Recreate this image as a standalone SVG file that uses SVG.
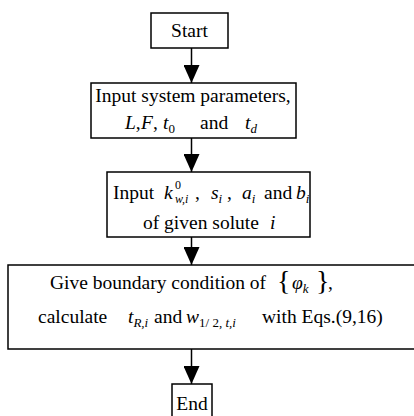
<svg xmlns="http://www.w3.org/2000/svg" width="414" height="416" viewBox="0 0 414 416">
<defs>
<style>
.box{fill:#fff;stroke:#000;stroke-width:1.5}
.ln{stroke:#000;stroke-width:1.5;fill:none}
text{font-family:"Liberation Serif","Times New Roman",serif;font-size:19.5px;fill:#000}
.it{font-style:italic}
.sub{font-size:13px}
.sm{font-size:12px}
.br{font-size:28px}
</style>
<marker id="ah" viewBox="0 0 18 16" refX="18" refY="8" markerWidth="18" markerHeight="16" markerUnits="userSpaceOnUse" orient="auto">
<path d="M0,0 L18,8 L0,16 Z" fill="#000"/>
</marker>
</defs>
<rect width="414" height="416" fill="#fff"/>
<g id="connectors">
<line class="ln" x1="191.5" y1="48" x2="191.5" y2="83" marker-end="url(#ah)"/>
<line class="ln" x1="191.5" y1="138" x2="191.5" y2="172" marker-end="url(#ah)"/>
<line class="ln" x1="191.5" y1="237" x2="191.5" y2="265" marker-end="url(#ah)"/>
<line class="ln" x1="191.5" y1="349" x2="191.5" y2="384" marker-end="url(#ah)"/>
</g>
<g id="start">
<rect class="box" x="151" y="13" width="77" height="35"/>
<text x="189.5" y="37" text-anchor="middle">Start</text>
</g>
<g id="input-params">
<rect class="box" x="91" y="83" width="205" height="55"/>
<text x="193" y="102" text-anchor="middle">Input system parameters,</text>
<text y="129"><tspan x="125" class="it">L</tspan><tspan>,</tspan><tspan class="it" x="141">F</tspan><tspan>,</tspan><tspan class="it" x="163">t</tspan><tspan class="sub" dy="4">0</tspan><tspan x="200" dy="-4">and</tspan><tspan class="it" x="245">t</tspan><tspan class="it sub" dy="4">d</tspan></text>
</g>
<g id="input-solute">
<rect class="box" x="107" y="172" width="203" height="65"/>
<text y="199"><tspan x="113">Input</tspan><tspan class="it" x="164">k</tspan><tspan class="sm" x="175" dy="-10">0</tspan><tspan class="it sm" x="175" dy="14">w,i</tspan><tspan x="195" dy="-4">,</tspan><tspan class="it" x="211">s</tspan><tspan class="it sub" dy="4">i</tspan><tspan dy="-4"> ,</tspan><tspan class="it" x="242">a</tspan><tspan class="it sub" dy="4">i</tspan><tspan x="264" dy="-4">and</tspan><tspan class="it" x="296">b</tspan><tspan class="it sub" dy="4">i</tspan></text>
<text y="229"><tspan x="143">of given solute</tspan><tspan class="it" x="270">i</tspan></text>
</g>
<g id="boundary">
<rect class="box" x="8" y="265" width="410" height="84"/>
<text y="289"><tspan x="50">Give boundary condition of </tspan><tspan class="br" x="277" dy="1">{</tspan><tspan class="it" x="292" dy="-1">φ</tspan><tspan class="it sub" dy="4">k</tspan><tspan class="br" x="316" dy="-3">}</tspan><tspan x="328" dy="-1">,</tspan></text>
<text y="323"><tspan x="38">calculate</tspan><tspan class="it" x="128">t</tspan><tspan class="it sub" dy="4">R,i</tspan><tspan x="154" dy="-4">and</tspan><tspan class="it" x="186">w</tspan><tspan class="sub" dy="4">1/ 2, </tspan><tspan class="it sub">t,i</tspan><tspan x="262" dy="-4">with Eqs.(9,16)</tspan></text>
</g>
<g id="end">
<rect class="box" x="172" y="384" width="40" height="40"/>
<text x="192" y="410" text-anchor="middle">End</text>
</g>
</svg>
